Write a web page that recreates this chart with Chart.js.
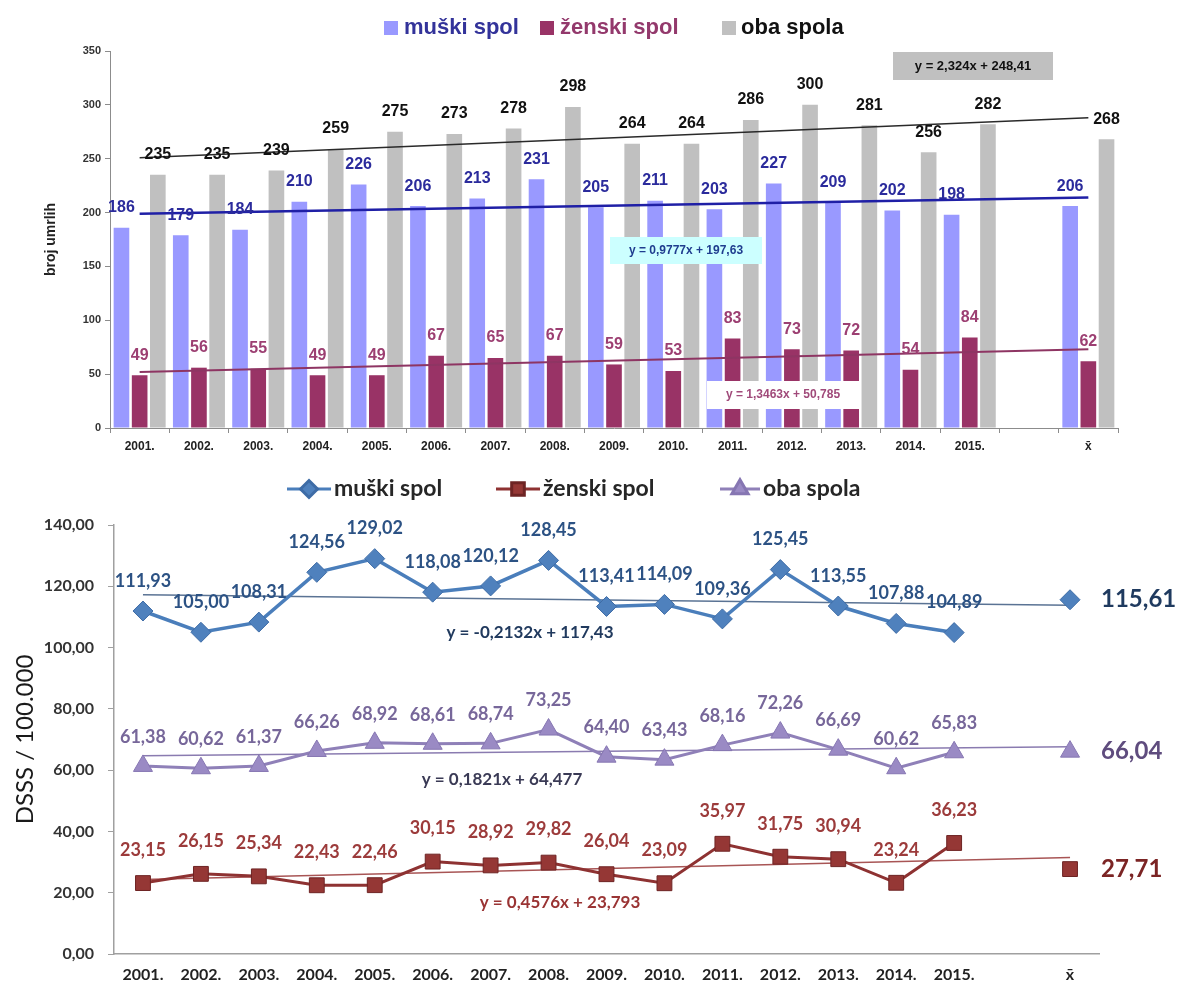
<!DOCTYPE html>
<html>
<head>
<meta charset="utf-8">
<script src="https://cdn.jsdelivr.net/npm/chart.js@4.4.1/dist/chart.umd.min.js"></script>
<style>
  html, body { margin: 0; padding: 0; background: #fff; overflow: hidden; }
  #barChart { position: absolute; left: 0; top: 0; }
  #lineChart { position: absolute; left: 0; top: 470px; }
</style>
</head>
<body>
<canvas id="barChart" width="1177" height="470"></canvas>
<canvas id="lineChart" width="1177" height="515"></canvas>
<script>
const years = ['2001.', '2002.', '2003.', '2004.', '2005.', '2006.', '2007.', '2008.',
  '2009.', '2010.', '2011.', '2012.', '2013.', '2014.', '2015.', '', 'x\u0304'];

// gornji graf - broj umrlih
const muskiBroj = [186, 179, 184, 210, 226, 206, 213, 231, 205, 211, 203, 227, 209, 202, 198, null, 206];
const zenskiBroj = [49, 56, 55, 49, 49, 67, 65, 67, 59, 53, 83, 73, 72, 54, 84, null, 62];
const obaBroj = [235, 235, 239, 259, 275, 273, 278, 298, 264, 264, 286, 300, 281, 256, 282, null, 268];
// linije trenda, krajnje vrijednosti ocitane sa slike
const muskiBrojTrend = [199, null, null, null, null, null, null, null, null, null, null, null, null, null, null, null, 214];
const zenskiBrojTrend = [52, null, null, null, null, null, null, null, null, null, null, null, null, null, null, null, 73];
const obaBrojTrend = [251, null, null, null, null, null, null, null, null, null, null, null, null, null, null, null, 288];
const barYTicks = [0, 50, 100, 150, 200, 250, 300, 350];

// donji graf - DSSS / 100.000
const muskiStopa = [111.93, 105.00, 108.31, 124.56, 129.02, 118.08, 120.12, 128.45, 113.41, 114.09, 109.36, 125.45, 113.55, 107.88, 104.89, null, 115.61];
const zenskiStopa = [23.15, 26.15, 25.34, 22.43, 22.46, 30.15, 28.92, 29.82, 26.04, 23.09, 35.97, 31.75, 30.94, 23.24, 36.23, null, 27.71];
const obaStopa = [61.38, 60.62, 61.37, 66.26, 68.92, 68.61, 68.74, 73.25, 64.40, 63.43, 68.16, 72.26, 66.69, 60.62, 65.83, null, 66.04];
const muskiStopaTrend = [117.2, null, null, null, null, null, null, null, null, null, null, null, null, null, null, null, 113.8];
const zenskiStopaTrend = [24.3, null, null, null, null, null, null, null, null, null, null, null, null, null, null, null, 31.5];
const obaStopaTrend = [64.7, null, null, null, null, null, null, null, null, null, null, null, null, null, null, null, 67.6];
const lineYTicks = [0, 20, 40, 60, 80, 100, 120, 140];

const ARIAL = '"Liberation Sans", Arial, sans-serif';
const CALIBRI = 'Lato, "Open Sans", sans-serif';

function fmtComma(v) {
    return v.toFixed(2).replace('.', ',');
}

// vrijednosti iznad stupaca / tocaka
const valueLabels = {
    id: 'valueLabels',
    afterDatasetsDraw(chart, args, opts) {
        const ctx = chart.ctx;
        chart.data.datasets.forEach((ds, i) => {
            if (!ds.labelColor) return;
            const meta = chart.getDatasetMeta(i);
            meta.data.forEach((el, j) => {
                const v = ds.data[j];
                if (v == null) return;
                const text = opts.format(v);
                ctx.save();
                ctx.textBaseline = 'middle';
                if (opts.meanIndex === j) {
                    ctx.font = opts.meanFont;
                    ctx.fillStyle = ds.meanColor;
                    ctx.textAlign = 'left';
                    ctx.fillText(text, el.x + opts.meanGap, el.y);
                } else {
                    ctx.font = opts.font;
                    ctx.fillStyle = ds.labelColor;
                    ctx.textAlign = 'center';
                    ctx.fillText(text, el.x, el.y - ds.labelDy);
                }
                ctx.restore();
            });
        });
    }
};

// jednadzbe trenda
const trendNotes = {
    id: 'trendNotes',
    afterDatasetsDraw(chart, args, opts) {
        const ctx = chart.ctx;
        opts.items.forEach(n => {
            ctx.save();
            ctx.font = n.font;
            if (n.bg) {
                ctx.fillStyle = n.bg;
                ctx.fillRect(n.x, n.y, n.w, n.h);
            }
            ctx.fillStyle = n.color;
            ctx.textAlign = 'center';
            ctx.textBaseline = 'middle';
            ctx.fillText(n.text, n.x + n.w / 2, n.y + n.h / 2);
            ctx.restore();
        });
    }
};

// legenda
const manualLegend = {
    id: 'manualLegend',
    afterDraw(chart, args, opts) {
        const ctx = chart.ctx;
        ctx.save();
        ctx.font = opts.font;
        ctx.textBaseline = 'middle';
        ctx.textAlign = 'left';
        opts.items.forEach(it => {
            const ds = chart.data.datasets[it.ds];
            if (opts.kind === 'box') {
                ctx.fillStyle = ds.backgroundColor;
                ctx.fillRect(it.symbolX, opts.y - 7, 14, 14);
            } else {
                ctx.strokeStyle = ds.borderColor;
                ctx.lineWidth = 3;
                ctx.beginPath();
                ctx.moveTo(it.symbolX, opts.y);
                ctx.lineTo(it.symbolX + it.symbolW, opts.y);
                ctx.stroke();
                ctx.fillStyle = ds.pointBackgroundColor;
                ctx.strokeStyle = ds.pointBorderColor;
                Chart.helpers.drawPoint(ctx, {
                    pointStyle: ds.pointStyle, radius: ds.pointRadius * 0.85, borderWidth: 1, rotation: 0
                }, it.symbolX + it.symbolW / 2, opts.y);
            }
            ctx.fillStyle = it.textColor;
            ctx.fillText(ds.label, it.textX, opts.y);
        });
        ctx.restore();
    }
};

function trendLine(data, color, width) {
    return {
        type: 'line', label: 'trend', data: data, borderColor: color, borderWidth: width,
        pointRadius: 0, spanGaps: true, fill: false, order: 1
    };
}

function drawBarChart() {
    const ctx = document.getElementById('barChart').getContext('2d');
    new Chart(ctx, {
        type: 'bar',
        data: {
            labels: years,
            datasets: [
                { label: 'muški spol', data: muskiBroj, backgroundColor: '#9999ff', order: 2,
                  labelColor: '#2b2b9c', labelDy: 20 },
                { label: 'ženski spol', data: zenskiBroj, backgroundColor: '#993366', order: 2,
                  labelColor: '#9c3f72', labelDy: 20 },
                { label: 'oba spola', data: obaBroj, backgroundColor: '#c0c0c0', order: 2,
                  labelColor: '#111111', labelDy: 20 },
                trendLine(obaBrojTrend, '#2a2a2a', 1.5),
                trendLine(muskiBrojTrend, '#1f1fa6', 2.5),
                trendLine(zenskiBrojTrend, '#8e3563', 2)
            ]
        },
        options: {
            responsive: false,
            animation: false,
            categoryPercentage: 0.92,
            barPercentage: 0.86,
            layout: { padding: { top: 51, right: 59, left: 0, bottom: 0 } },
            scales: {
                x: {
                    afterFit: s => { s.height = 42; },
                    border: { color: '#8c8c8c' },
                    grid: { drawOnChartArea: false, tickLength: 5, color: '#8c8c8c' },
                    ticks: { padding: 6, color: '#222', maxRotation: 0, autoSkip: false,
                             font: { family: ARIAL, size: 12, weight: 'bold' } }
                },
                y: {
                    min: 0, max: 350,
                    afterBuildTicks: s => { s.ticks = barYTicks.map(v => ({ value: v })); },
                    afterFit: s => { s.width = 110; },
                    border: { color: '#8c8c8c' },
                    grid: { drawOnChartArea: false, tickLength: 5, color: '#8c8c8c' },
                    ticks: { padding: 4, color: '#333', font: { family: ARIAL, size: 11, weight: 'bold' } },
                    title: { display: true, text: 'broj umrlih', color: '#222',
                             font: { family: ARIAL, size: 14, weight: 'bold' },
                             padding: { top: 43, bottom: 0 } }
                }
            },
            plugins: {
                legend: { display: false },
                tooltip: { enabled: false },
                valueLabels: {
                    format: v => String(v),
                    font: 'bold 16px ' + ARIAL,
                    meanIndex: -1
                },
                trendNotes: {
                    items: [
                        { text: 'y = 2,324x + 248,41', x: 893, y: 52, w: 160, h: 28, bg: '#c0c0c0',
                          color: '#111', font: 'bold 13px ' + ARIAL },
                        { text: 'y = 0,9777x + 197,63', x: 610, y: 237, w: 152, h: 27, bg: '#ccffff',
                          color: '#1f3d8f', font: 'bold 12px ' + ARIAL },
                        { text: 'y = 1,3463x + 50,785', x: 707, y: 381, w: 152, h: 28, bg: '#ffffff',
                          color: '#a04a7a', font: 'bold 12px ' + ARIAL }
                    ]
                },
                manualLegend: {
                    kind: 'box',
                    y: 28,
                    font: 'bold 22px ' + ARIAL,
                    items: [
                        { ds: 0, symbolX: 384, textX: 404, textColor: '#33339a' },
                        { ds: 1, symbolX: 540, textX: 560, textColor: '#93396c' },
                        { ds: 2, symbolX: 722, textX: 741, textColor: '#111111' }
                    ]
                }
            }
        },
        plugins: [valueLabels, trendNotes, manualLegend]
    });
}

function drawLineChart() {
    const ctx = document.getElementById('lineChart').getContext('2d');
    new Chart(ctx, {
        type: 'line',
        data: {
            labels: years,
            datasets: [
                { label: 'muški spol', data: muskiStopa, borderColor: '#4a7ebb', borderWidth: 3.5,
                  pointStyle: 'rectRot', pointRadius: 10, pointBackgroundColor: '#4f81bd',
                  pointBorderColor: '#3e6ca6', pointBorderWidth: 1, spanGaps: false, order: 1,
                  labelColor: '#2c5284', labelDy: 30, meanColor: '#1f3a5f' },
                { label: 'ženski spol', data: zenskiStopa, borderColor: '#8e3232', borderWidth: 3,
                  pointStyle: 'rect', pointRadius: 10.5, pointBackgroundColor: '#953735',
                  pointBorderColor: '#6e2424', pointBorderWidth: 1, spanGaps: false, order: 1,
                  labelColor: '#9c3b3b', labelDy: 33, meanColor: '#7b2424' },
                { label: 'oba spola', data: obaStopa, borderColor: '#8f80b8', borderWidth: 3,
                  pointStyle: 'triangle', pointRadius: 11, pointBackgroundColor: '#9a8ac4',
                  pointBorderColor: '#8676b2', pointBorderWidth: 1, spanGaps: false, order: 1,
                  labelColor: '#77679a', labelDy: 29, meanColor: '#5f4c7e' },
                Object.assign(trendLine(muskiStopaTrend, '#5a7394', 1.5), { order: 2 }),
                Object.assign(trendLine(obaStopaTrend, '#8a7bb0', 1.5), { order: 2 }),
                Object.assign(trendLine(zenskiStopaTrend, '#a85555', 1.5), { order: 2 })
            ]
        },
        options: {
            responsive: false,
            animation: false,
            layout: { padding: { top: 55, right: 78, left: 0, bottom: 0 } },
            scales: {
                x: {
                    offset: true,
                    afterFit: s => { s.height = 31; },
                    border: { color: '#a0a0a0', width: 1.5 },
                    grid: { display: false, drawTicks: false },
                    ticks: { padding: 11, color: '#222', maxRotation: 0, autoSkip: false,
                             font: { family: CALIBRI, size: 16, weight: 'bold' } }
                },
                y: {
                    min: 0, max: 140,
                    afterBuildTicks: s => { s.ticks = lineYTicks.map(v => ({ value: v })); },
                    afterFit: s => { s.width = 114; },
                    border: { color: '#a0a0a0', width: 1.5 },
                    grid: { drawOnChartArea: false, tickLength: 6, color: '#a0a0a0' },
                    ticks: { padding: 14, color: '#333', callback: v => fmtComma(v),
                             font: { family: CALIBRI, size: 16, weight: 'bold' } },
                    title: { display: true, text: 'DSSS / 100.000', color: '#1a1a1a',
                             font: { family: CALIBRI, size: 24 },
                             padding: { top: 11, bottom: 0 } }
                }
            },
            plugins: {
                legend: { display: false },
                tooltip: { enabled: false },
                valueLabels: {
                    format: fmtComma,
                    font: 'bold 18px ' + CALIBRI,
                    meanIndex: 16,
                    meanFont: 'bold 24px ' + CALIBRI,
                    meanGap: 31
                },
                trendNotes: {
                    items: [
                        { text: 'y = -0,2132x + 117,43', x: 430, y: 150, w: 200, h: 26,
                          color: '#213a5e', font: 'bold 17px ' + CALIBRI },
                        { text: 'y = 0,1821x + 64,477', x: 402, y: 297, w: 200, h: 26,
                          color: '#3a3a55', font: 'bold 17px ' + CALIBRI },
                        { text: 'y = 0,4576x + 23,793', x: 460, y: 420, w: 200, h: 26,
                          color: '#9a3434', font: 'bold 17px ' + CALIBRI }
                    ]
                },
                manualLegend: {
                    kind: 'line',
                    y: 19,
                    font: 'bold 23px ' + CALIBRI,
                    items: [
                        { ds: 0, symbolX: 287, symbolW: 44, textX: 334, textColor: '#262626' },
                        { ds: 1, symbolX: 496, symbolW: 44, textX: 543, textColor: '#262626' },
                        { ds: 2, symbolX: 720, symbolW: 40, textX: 763, textColor: '#262626' }
                    ]
                }
            }
        },
        plugins: [valueLabels, trendNotes, manualLegend]
    });
}

document.addEventListener('DOMContentLoaded', function () {
    drawBarChart();
    drawLineChart();
});
</script>
</body>
</html>
